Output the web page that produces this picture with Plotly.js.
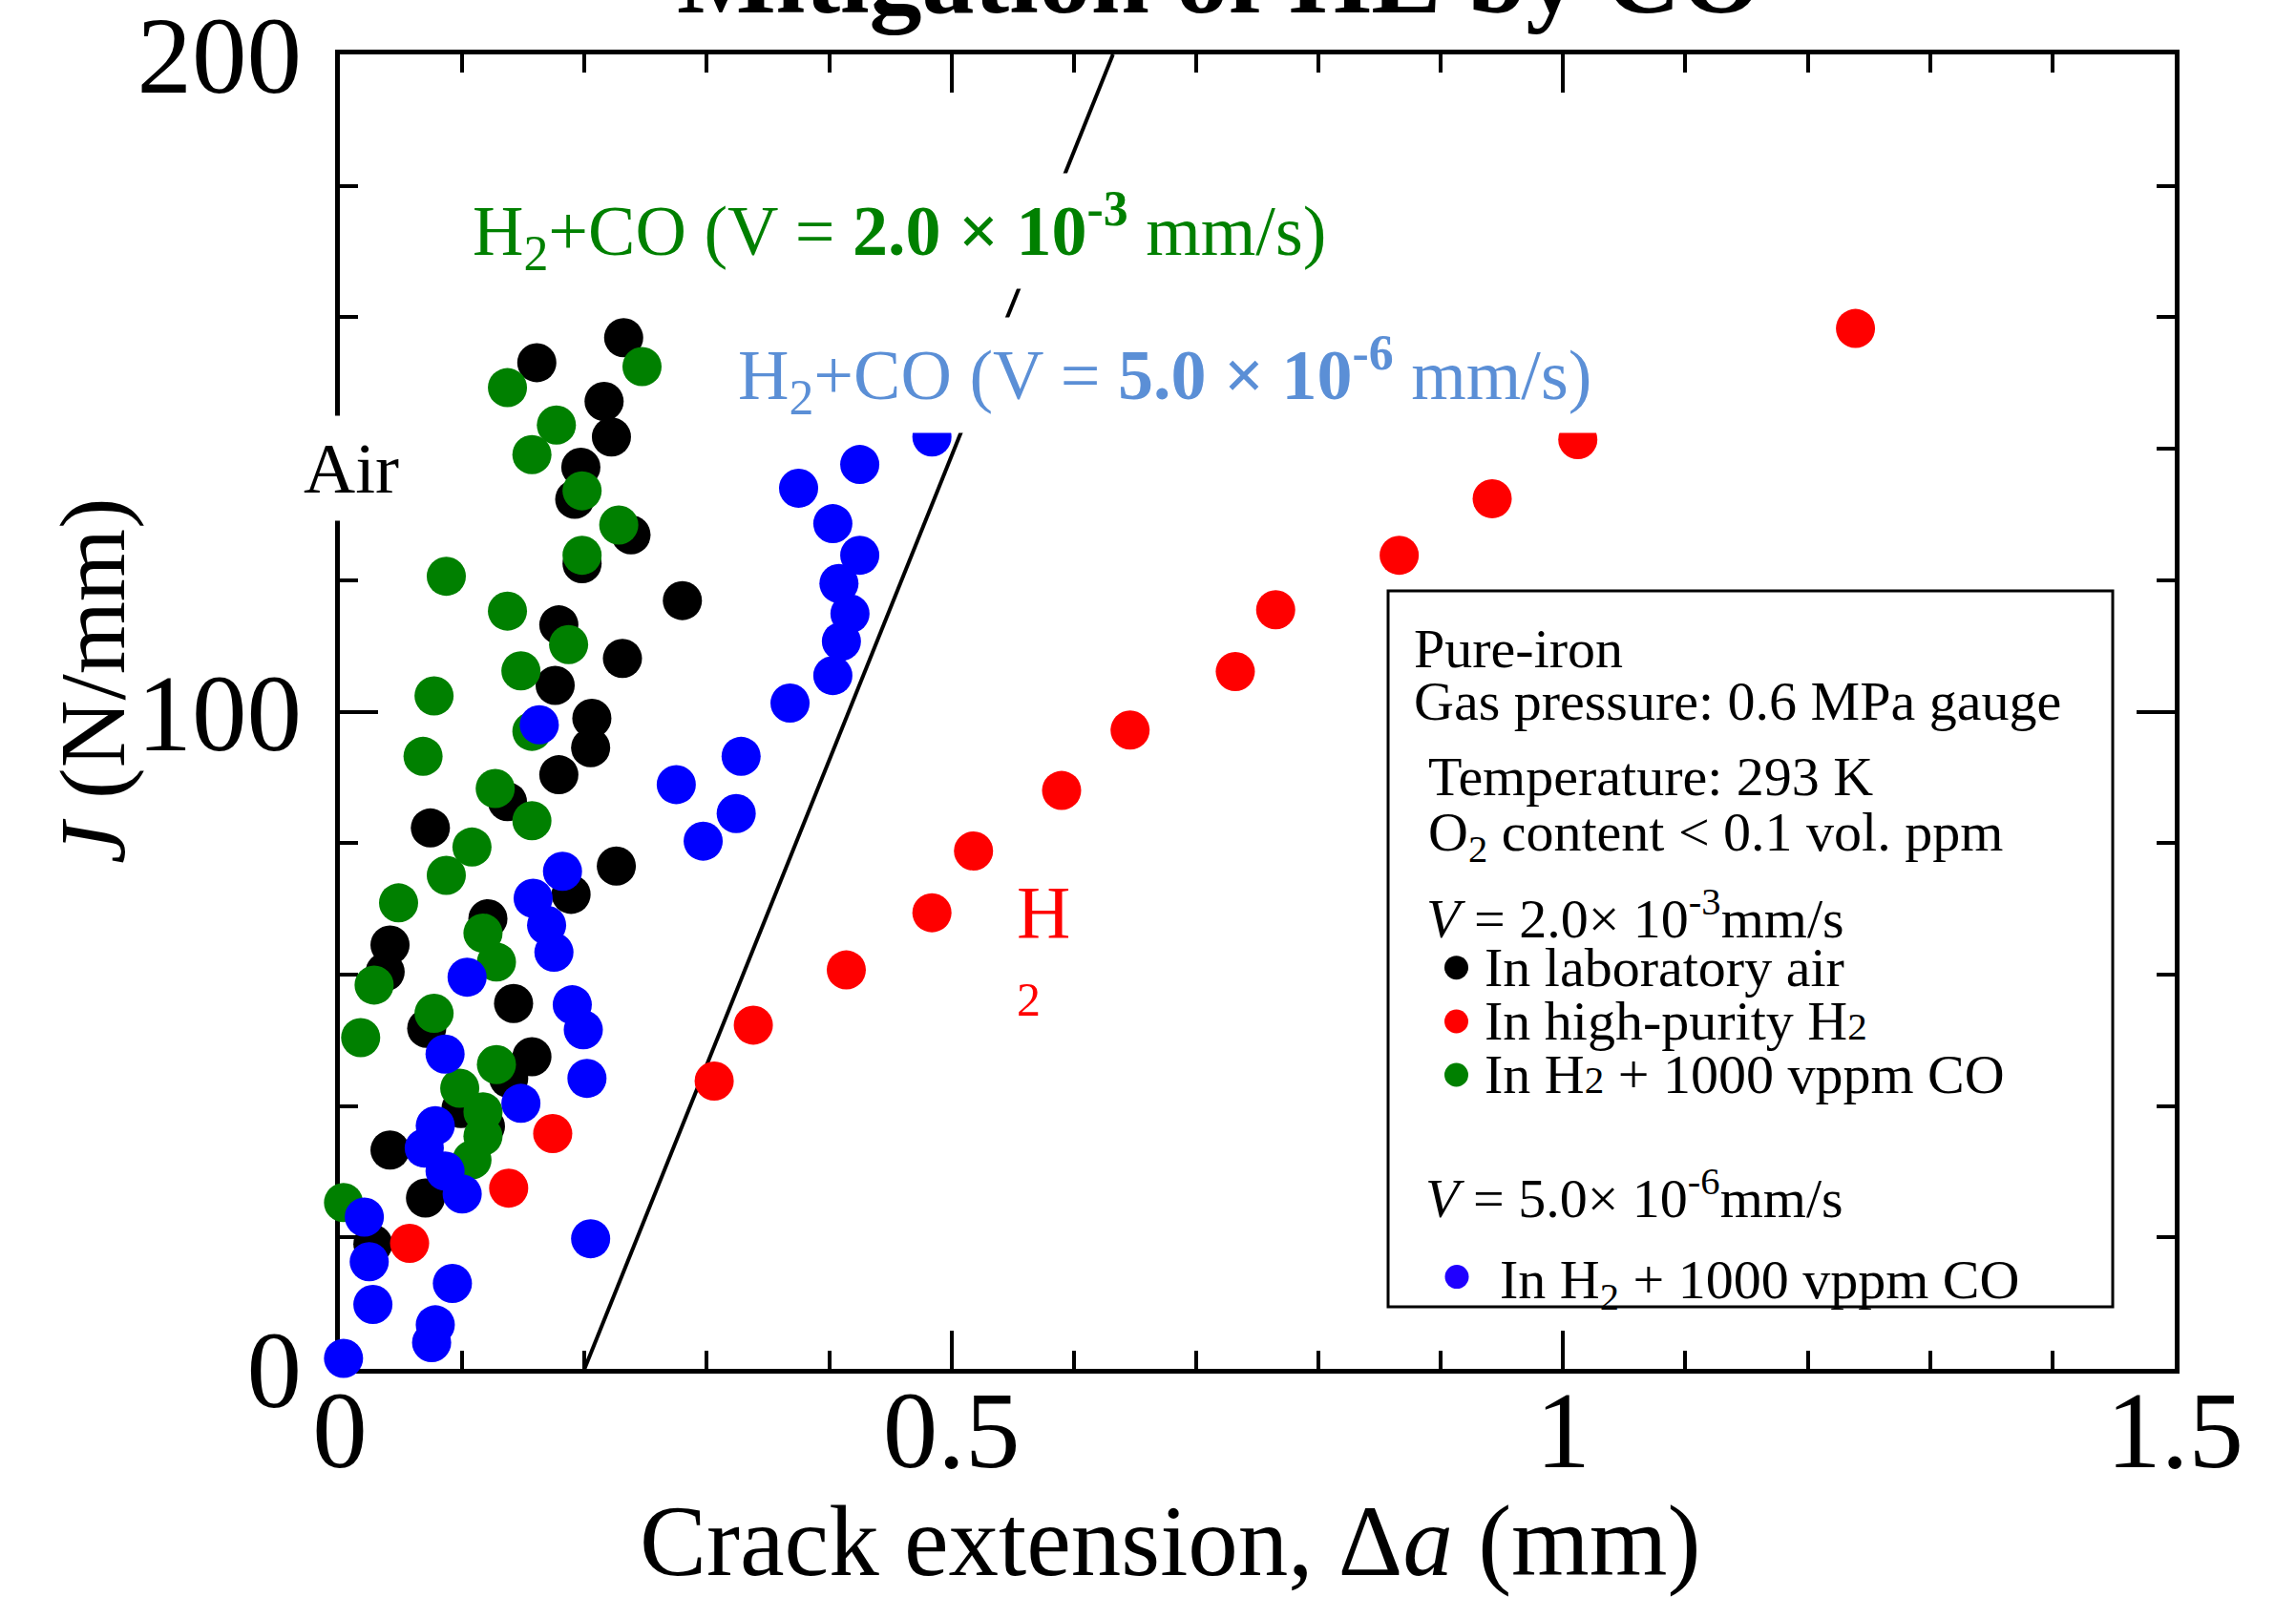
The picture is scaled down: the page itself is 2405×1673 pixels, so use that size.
<!DOCTYPE html>
<html>
<head>
<meta charset="utf-8">
<script src="https://cdn.plot.ly/plotly-3.0.1.min.js"></script>
<style>html,body{margin:0;padding:0;background:#fff;}#chart{width:2405px;height:1673px;}</style>
</head>
<body>
<div id="chart"></div>
<script>
// ---- data ----
const airX = [0.232,0.161,0.216,0.222,0.197,0.192,0.238,0.198,0.280,0.179,0.231,0.176,0.206,0.205,0.179,0.137,0.074,0.226,0.189,0.121,0.041,0.037,0.142,0.071,0.157,0.138,0.099,0.119,0.041,0.070,0.027];
const airY = [156.9,153.1,147.2,141.8,137.2,132.3,126.9,122.5,116.9,113.2,108.1,104.0,99.0,94.5,90.4,86.3,82.3,76.5,72.2,68.5,64.5,60.4,55.6,51.8,47.5,44.2,39.6,36.9,33.3,26.0,19.0];

const h2X = [0.057,0.138,0.174,0.306,0.338,0.414,0.484,0.518,0.590,0.646,0.732,0.765,0.866,0.942,1.012,1.239];
const h2Y = [19.1,27.5,35.8,43.8,52.3,60.7,69.4,78.8,88.0,97.2,106.1,115.5,123.8,132.4,141.4,158.3];

const coFastX = [0.247,0.137,0.177,0.157,0.198,0.228,0.198,0.087,0.137,0.187,0.148,0.077,0.157,0.068,0.127,0.157,0.108,0.087,0.048,0.117,0.128,0.028,0.077,0.017,0.128,0.098,0.117,0.117,0.108,0.003];
const coFastY = [152.5,149.3,143.6,139.1,133.6,128.4,123.8,120.6,115.3,110.2,106.2,102.4,97.0,93.2,88.3,83.4,79.4,75.1,70.9,66.3,61.9,58.4,54.1,50.4,46.3,42.7,39.1,35.4,31.8,25.3];

const coSlowX = [0.163,0.182,0.158,0.169,0.175,0.104,0.190,0.199,0.086,0.202,0.148,0.078,0.069,0.086,0.100,0.020,0.024,0.027,0.092,0.078,0.075,0.003,0.205,0.275,0.297,0.324,0.328,0.484,0.425,0.375,0.403,0.425,0.408,0.417,0.410,0.403,0.368];
const coSlowY = [98.0,75.7,71.6,67.5,63.4,59.6,55.4,51.6,47.9,44.2,40.4,37.0,33.6,30.1,26.6,23.1,16.3,9.8,13.0,6.7,4.0,1.6,19.8,88.9,80.3,84.5,93.2,141.8,137.6,134.0,128.6,123.8,119.5,114.9,110.7,105.5,101.3];

const bluntX = [0.2, 0.632];
const bluntY = [0, 200];

const xTickVals = [0, 0.5, 1, 1.5];
const xTickText = ['0', '0.5', '1', '1.5'];
const yTickVals = [0, 100, 200];
const yTickText = ['0', '100', '200'];

// ---- layout helpers ----
const W = 2405, H = 1673;
const L = 356, R = 2278, T = 57, B = 1434;
const px = v => (v - L) / (R - L);
const py = v => (B - v) / (B - T);
const FONT = 'Liberation Serif, Times New Roman, serif';

function ann(text, x, y, size, opts) {
  return Object.assign({
    text: text, xref: 'paper', yref: 'paper', x: px(x), y: py(y),
    xanchor: 'left', yanchor: 'middle', showarrow: false,
    font: {family: FONT, size: size, color: '#000'}
  }, opts || {});
}

function dotTrace(x, y, color) {
  return {x: x, y: y, type: 'scatter', mode: 'markers', cliponaxis: false,
    marker: {size: 41, color: color, line: {width: 0}}, hoverinfo: 'skip', showlegend: false};
}

const traces = [
  {x: bluntX, y: bluntY, type: 'scatter', mode: 'lines', line: {color: '#000', width: 4}, hoverinfo: 'skip', showlegend: false},
  dotTrace(airX, airY, '#000000'),
  dotTrace(h2X, h2Y, '#FF0000'),
  dotTrace(coFastX, coFastY, '#008000'),
  dotTrace(coSlowX, coSlowY, '#0000FF')
];

const axisCommon = {
  showline: true, linewidth: 5, linecolor: '#000', mirror: 'allticks',
  ticks: 'inside', ticklen: 40, tickwidth: 4, tickcolor: '#000',
  showgrid: false, zeroline: false, layer: 'below traces',
  ticklabeloverflow: 'allow',
  tickfont: {family: FONT, size: 115, color: '#000'}
};

const legendDots = [
  {x: 1525.5, y: 1013.7, c: '#000000'},
  {x: 1525.5, y: 1070, c: '#FF0000'},
  {x: 1525.5, y: 1126, c: '#008000'},
  {x: 1526, y: 1337.6, c: '#2000FF'}
];

const shapes = [
  {type: 'rect', xref: 'paper', yref: 'paper', x0: px(1454), x1: px(2213), y0: py(1369), y1: py(619),
   line: {color: '#000', width: 3}, fillcolor: 'rgba(255,255,255,0)'}
].concat(legendDots.map(d => ({
  type: 'circle', xref: 'paper', yref: 'paper', xsizemode: 'pixel', ysizemode: 'pixel',
  xanchor: px(d.x), yanchor: py(d.y), x0: -12.5, x1: 12.5, y0: -12.5, y1: 12.5,
  fillcolor: d.c, line: {width: 0}
})));

const LF = 58;
const annotations = [
  ann('<b>Mitigation of HE by CO</b>', 1277, -24, 110, {xanchor: 'center'}),
  ann('Crack extension, Δ<i>a</i> (mm)', 1225, 1615, 105, {xanchor: 'center'}),
  ann('<i>J</i> (N/mm)', 97, 713, 98, {xanchor: 'center', textangle: -90}),
  ann('H<sub>2</sub>+CO (V = <b>2.0 × 10<sup>-3</sup></b> mm/s)', 486, 242, 74,
      {font: {family: FONT, size: 74, color: '#008000'}, bgcolor: '#ffffff', borderpad: 8}),
  ann('H<sub>2</sub>+CO (V = <b>5.0 × 10<sup>-6</sup></b> mm/s)', 764, 393, 74,
      {font: {family: FONT, size: 74, color: '#5B8FD6'}, bgcolor: '#ffffff', borderpad: 8}),
  ann('Air', 304, 490, 75, {bgcolor: '#ffffff', borderpad: 13}),
  ann('H', 1063, 955, 78, {font: {family: FONT, size: 78, color: '#FF0000'}}),
  ann('2', 1063, 1047, 50, {font: {family: FONT, size: 50, color: '#FF0000'}}),
  // legend box text
  ann('Pure-iron', 1479, 679.5, LF),
  ann('Gas pressure: 0.6 MPa gauge', 1479, 734.5, LF),
  ann('Temperature: 293 K', 1494, 813.5, LF),
  ann('O<sub>2</sub> content &lt; 0.1 vol. ppm', 1494, 875, LF),
  ann('<i>V</i> = 2.0× 10<sup>-3</sup>mm/s', 1492, 958, LF),
  ann('In laboratory air', 1553, 1013, LF),
  ann('In high-purity H<span style="font-size:41px">2</span>', 1553, 1069.5, LF),
  ann('In H<span style="font-size:41px">2</span> + 1000 vppm CO', 1553, 1125.5, LF),
  ann('<i>V</i> = 5.0× 10<sup>-6</sup>mm/s', 1491, 1251, LF),
  ann('In H<sub>2</sub> + 1000 vppm CO', 1569, 1344, LF)
];

const layout = {
  width: W, height: H,
  margin: {l: L, r: W - R, t: T, b: H - B, pad: 0},
  paper_bgcolor: '#ffffff', plot_bgcolor: '#ffffff',
  showlegend: false,
  font: {family: FONT, color: '#000'},
  xaxis: Object.assign({}, axisCommon, {
    range: [0, 1.5], tickmode: 'array', tickvals: xTickVals, ticktext: xTickText,
    ticklabelstandoff: -40,
    minor: {dtick: 0.1, tick0: 0, ticks: 'inside', ticklen: 19, tickwidth: 4, tickcolor: '#000', showgrid: false}
  }),
  yaxis: Object.assign({}, axisCommon, {
    range: [0, 200], tickmode: 'array', tickvals: yTickVals, ticktext: yTickText,
    ticklabelstandoff: 12,
    minor: {dtick: 20, tick0: 0, ticks: 'inside', ticklen: 19, tickwidth: 4, tickcolor: '#000', showgrid: false}
  }),
  shapes: shapes,
  annotations: annotations
};

Plotly.newPlot('chart', traces, layout, {staticPlot: true, displayModeBar: false});
</script>
</body>
</html>
